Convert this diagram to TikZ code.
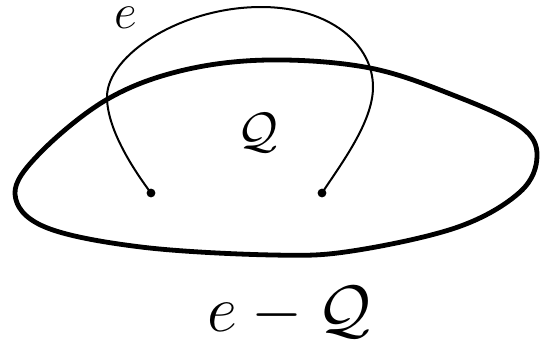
\documentclass[tikz,border=0pt]{standalone}
\tikzset{
  blob/.style={line width=2.4pt, line join=round},
  edgearc/.style={line width=1pt},
  enddot/.style={circle, fill=black, inner sep=0pt, minimum size=4.4pt},
  lbl/.style={inner sep=0pt, font=\fontsize{24.88}{30}\selectfont}
}
\begin{document}
\begin{tikzpicture}[x=0.5pt, y=-0.5pt]
  \useasboundingbox (0,0) rectangle (551,345);
  % the set Q
  \draw[blob] plot[smooth cycle, tension=0.6] coordinates {
    (15,194) (40,153) (106,100) (180,71) (268,60) (370,68) (458,97)
    (521,127) (537,156) (520,192) (458,227) (352,251) (273,255)
    (141,247) (45,227)};
  % endpoints of e
  \node[enddot] (a) at (151,193) {};
  \node[enddot] (b) at (322,193) {};
  \coordinate (L) at (107,97);
  \coordinate (T) at (261,7);
  \coordinate (R) at (373,87);
  \draw[edgearc] (a.center) .. controls (130,165) and (107,127) .. (L)
    .. controls (107,55) and (181,7) .. (T)
    .. controls (331,7) and (373,45) .. (R)
    .. controls (373,122) and (341,164) .. (b.center);
  % labels
  \node[lbl] (le) at (126,18) {$e$};
  \node[lbl] (lq) at (258,133) {$\mathcal{Q}$};
  \node[lbl, scale=1.32] (leq) at (289,312) {$e-\mathcal{Q}$};
\end{tikzpicture}
\end{document}
